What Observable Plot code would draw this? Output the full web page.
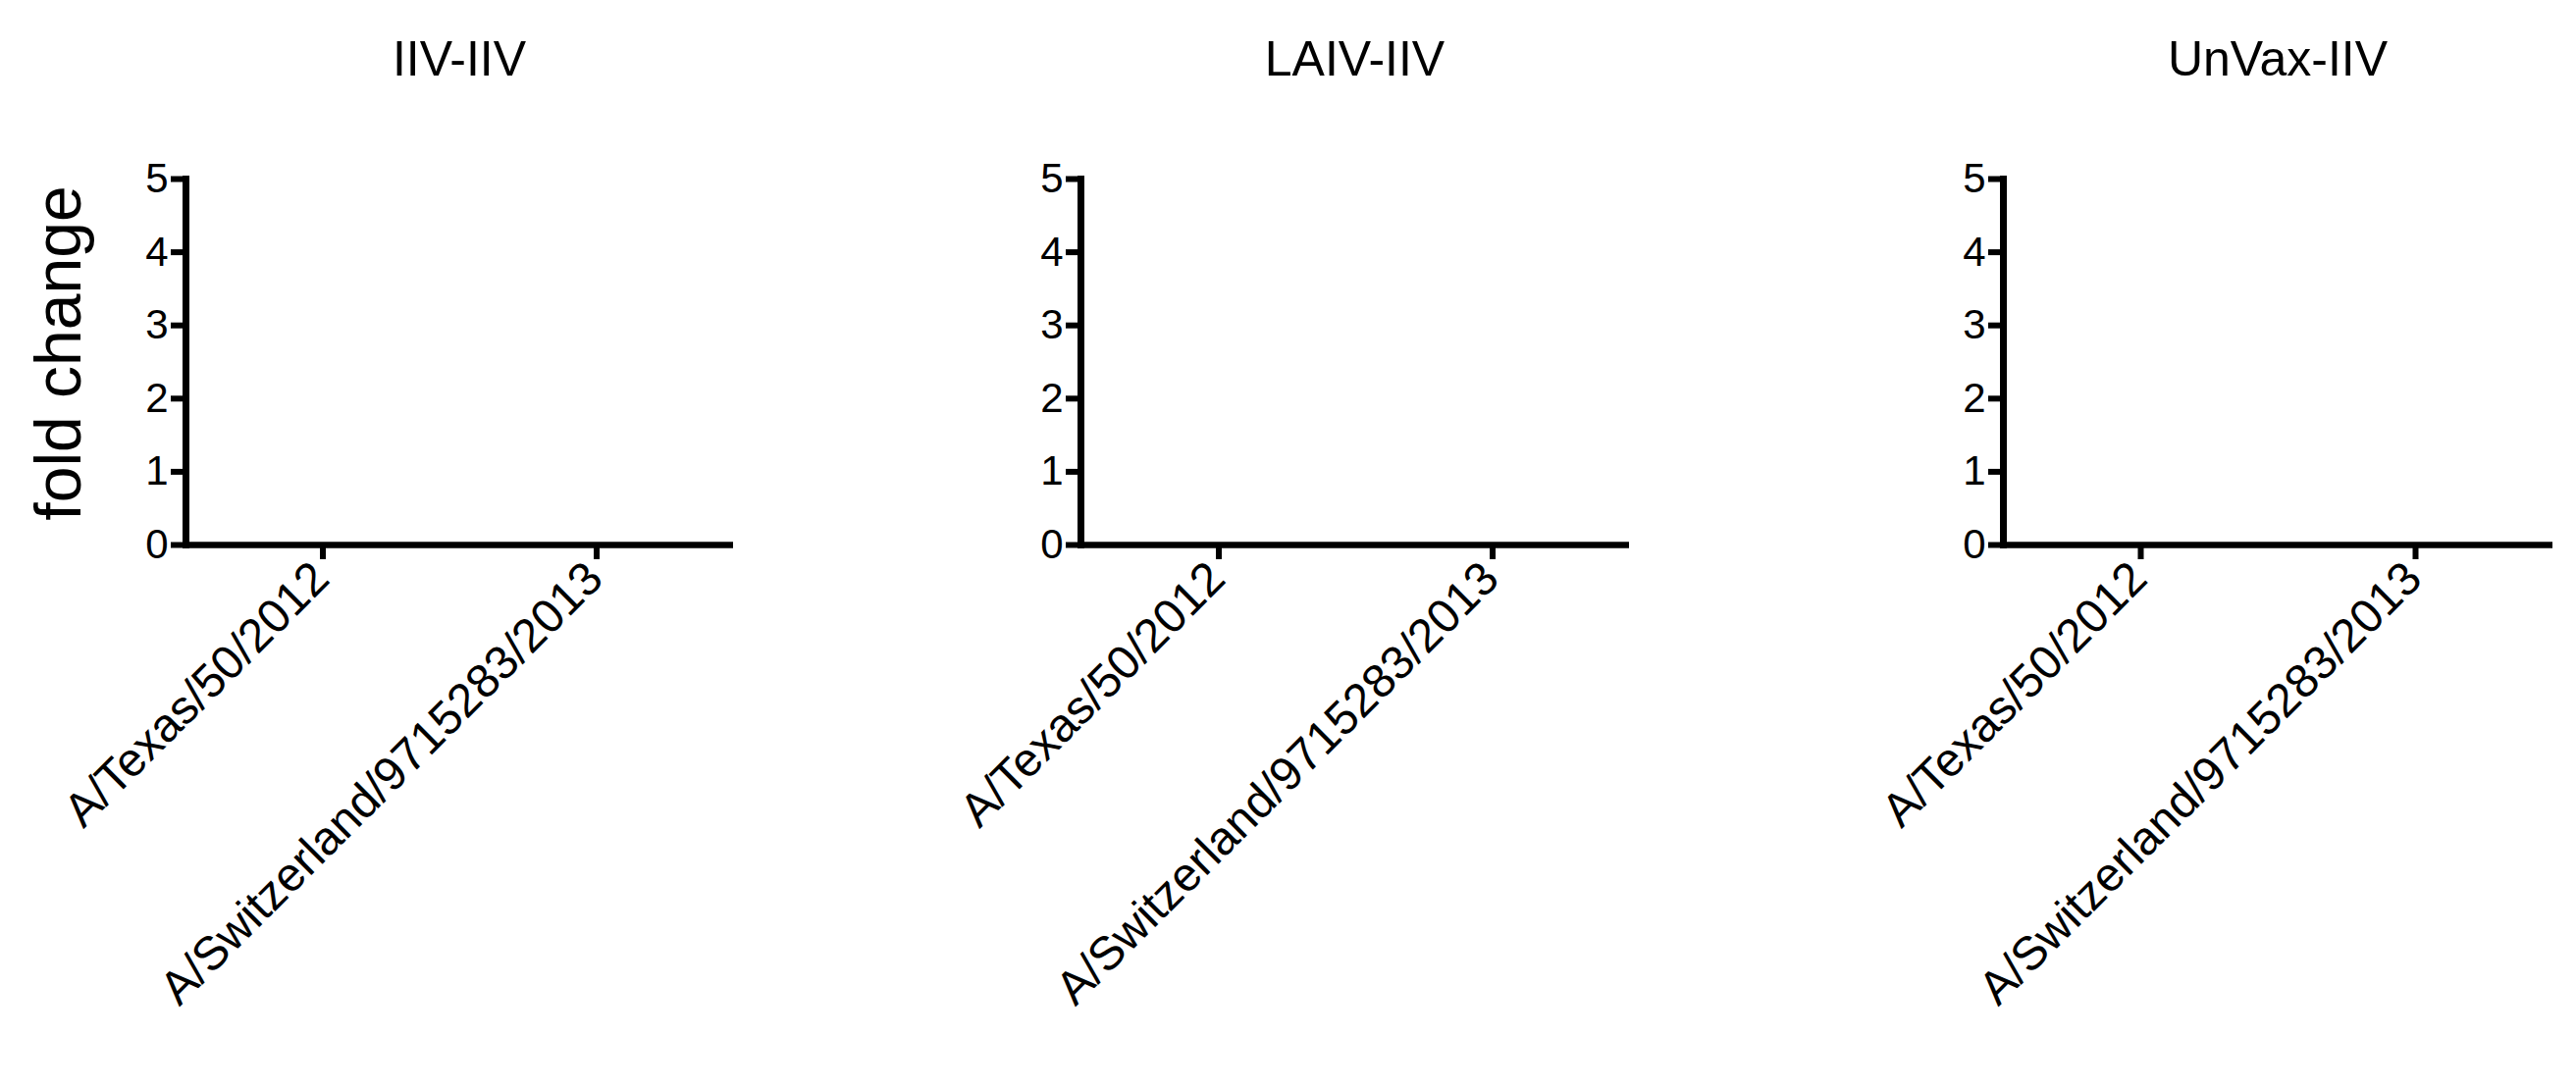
<!DOCTYPE html>
<html>
<head>
<meta charset="utf-8">
<script src="https://cdn.jsdelivr.net/npm/d3@7"></script>
<script src="https://cdn.jsdelivr.net/npm/@observablehq/plot@0.6"></script>
<style>
  body { margin: 0; background: #fff; }
  #chart { position: relative; width: 2625px; height: 1110px; overflow: hidden;
           font-family: "Liberation Sans", Arial, Helvetica, sans-serif; color: #000; background: #fff; }
  .panel { position: absolute; top: 0; }
  .title { position: absolute; font-size: 50px; line-height: 1; white-space: nowrap; transform: translateX(-50%); }
  .ylabel { position: absolute; font-size: 66px; line-height: 1; white-space: nowrap;
            transform: translate(-50%, -50%) rotate(-90deg); }
</style>
</head>
<body>
<div id="chart"></div>
<script>
// ---- data ----
const groups = ["IIV-IIV", "LAIV-IIV", "UnVax-IIV"];
const strains = ["A/Texas/50/2012", "A/Switzerland/9715283/2013"];
const yTicks = [0, 1, 2, 3, 4, 5];
const yDomain = [0, 5];
const yLabel = "fold change";

// ---- layout ----
const layout = [
  { left: 189, width: 558 },
  { left: 1101, width: 559 },
  { left: 2041, width: 560 }
];
const ML = 150, MR = 30, MT = 182, MB = 555, H = 1110;
const FONT = '"Liberation Sans", Arial, Helvetica, sans-serif';

const chart = document.getElementById("chart");

groups.forEach((g, i) => {
  const { left, width } = layout[i];
  const svg = Plot.plot({
    width: ML + width + MR,
    height: H,
    marginLeft: ML,
    marginRight: MR,
    marginTop: MT,
    marginBottom: MB,
    style: { fontFamily: FONT, fontSize: "42px", color: "#000", background: "transparent", overflow: "visible" },
    x: { domain: strains, type: "band", padding: 0 },
    y: { domain: yDomain },
    marks: [
      Plot.axisY(yTicks, { tickSize: 15, tickPadding: 3, strokeWidth: 6, fontSize: 42, tickFormat: d3.format("d"), label: null }),
      Plot.axisX(strains, { tickSize: 15, strokeWidth: 6, tickFormat: () => "", label: null }),
      Plot.axisX(strains, { tickSize: 0, tickPadding: 26, tickRotate: -45, fontSize: 48, dx: -2, label: null }),
      Plot.ruleY([0], { strokeWidth: 6.5 }),
      Plot.frame({ anchor: "left", strokeWidth: 7 })
    ]
  });
  svg.classList.add("panel");
  svg.style.left = (left - ML) + "px";
  chart.appendChild(svg);

  const t = document.createElement("div");
  t.className = "title";
  t.textContent = g;
  t.style.left = (left + width / 2) + "px";
  t.style.top = "35px";
  chart.appendChild(t);
});

const yl = document.createElement("div");
yl.className = "ylabel";
yl.textContent = yLabel;
yl.style.left = "59px";
yl.style.top = "360px";
chart.appendChild(yl);
</script>
</body>
</html>
